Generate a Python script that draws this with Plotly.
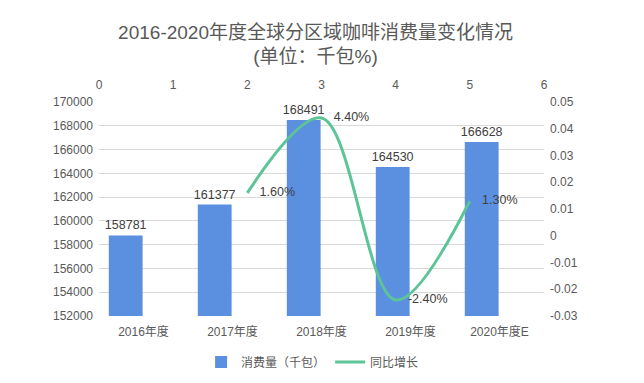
import plotly.graph_objects as go

years = ["2016年度", "2017年度", "2018年度", "2019年度", "2020年度E"]
consumption = [158781, 161377, 168491, 164530, 166628]
growth_pos = [2, 3, 4, 5]
growth = [0.016, 0.044, -0.024, 0.013]
growth_labels = ["1.60%", "4.40%", "-2.40%", "1.30%"]
right_ticks = [-0.03, -0.02, -0.01, 0, 0.01, 0.02, 0.03, 0.04, 0.05]
right_tick_labels = ["-0.03", "-0.02", "-0.01", "0", "0.01", "0.02", "0.03", "0.04", "0.05"]

FONT = "Liberation Sans, Arial, Noto Sans CJK SC, sans-serif"
BAR_C = "#5b8fe0"
LINE_C = "#5cc497"
GRID = "#d9d9d9"
TICK_C = "#595959"

fig = go.Figure()
fig.add_trace(go.Bar(
    x=years, y=consumption, name="消费量（千包）",
    marker=dict(color=BAR_C, line=dict(width=0)),
    width=0.38, offset=-0.39,
    text=[str(v) for v in consumption], textposition="outside",
    constraintext="none",
    textfont=dict(size=12.5, color="#404040", family=FONT),
    cliponaxis=False,
))
fig.add_trace(go.Scatter(
    x=growth_pos, y=growth, name="同比增长",
    xaxis="x2", yaxis="y2",
    mode="lines+markers+text",
    line=dict(color=LINE_C, width=3, shape="spline", smoothing=1),
    marker=dict(size=18, color="rgba(0,0,0,0)"),
    text=growth_labels, textposition="middle right",
    textfont=dict(size=12.5, color="#404040", family=FONT),
    cliponaxis=False,
))

fig.update_layout(
    template="none",
    width=644, height=383,
    paper_bgcolor="white", plot_bgcolor="white",
    margin=dict(l=99, r=100, t=102, b=67, autoexpand=False),
    font=dict(family=FONT, color=TICK_C, size=12),
    title=dict(text="2016-2020年度全球分区域咖啡消费量变化情况<br>(单位：千包%)",
               x=0.49, xanchor="center", y=0.899, yanchor="top",
               font=dict(size=19, color=TICK_C, family=FONT)),
    showlegend=True,
    legend=dict(orientation="h", x=0.48, xanchor="center", yref="container",
                y=0.055, yanchor="middle", font=dict(size=12, color=TICK_C),
                itemwidth=30),
    bargap=0.62,
    xaxis=dict(type="category", range=[-0.5, 4.5], showgrid=False,
               showline=False, ticks="", automargin=False, ticklabelstandoff=7,
               tickfont=dict(size=12, color=TICK_C)),
    yaxis=dict(range=[152000, 170000], dtick=2000, tickformat="d",
               showgrid=True, gridcolor=GRID, gridwidth=1, zeroline=False,
               showline=False, ticks="", ticklabelstandoff=5, automargin=False,
               tickfont=dict(size=12, color=TICK_C)),
    xaxis2=dict(overlaying="x", side="top", range=[0, 6], dtick=1,
                showgrid=False, zeroline=False, showline=False, ticks="",
                automargin=False, ticklabelstandoff=10,
                tickfont=dict(size=12, color=TICK_C)),
    yaxis2=dict(overlaying="y", side="right", range=[-0.03, 0.05],
                tickvals=right_ticks, ticktext=right_tick_labels,
                showgrid=False, zeroline=False, showline=False, ticks="",
                ticklabelstandoff=5, automargin=False,
                tickfont=dict(size=12, color=TICK_C)),
)

fig.write_html("out.html", config={"displayModeBar": False},
               post_script="document.body.style.margin='0';")
